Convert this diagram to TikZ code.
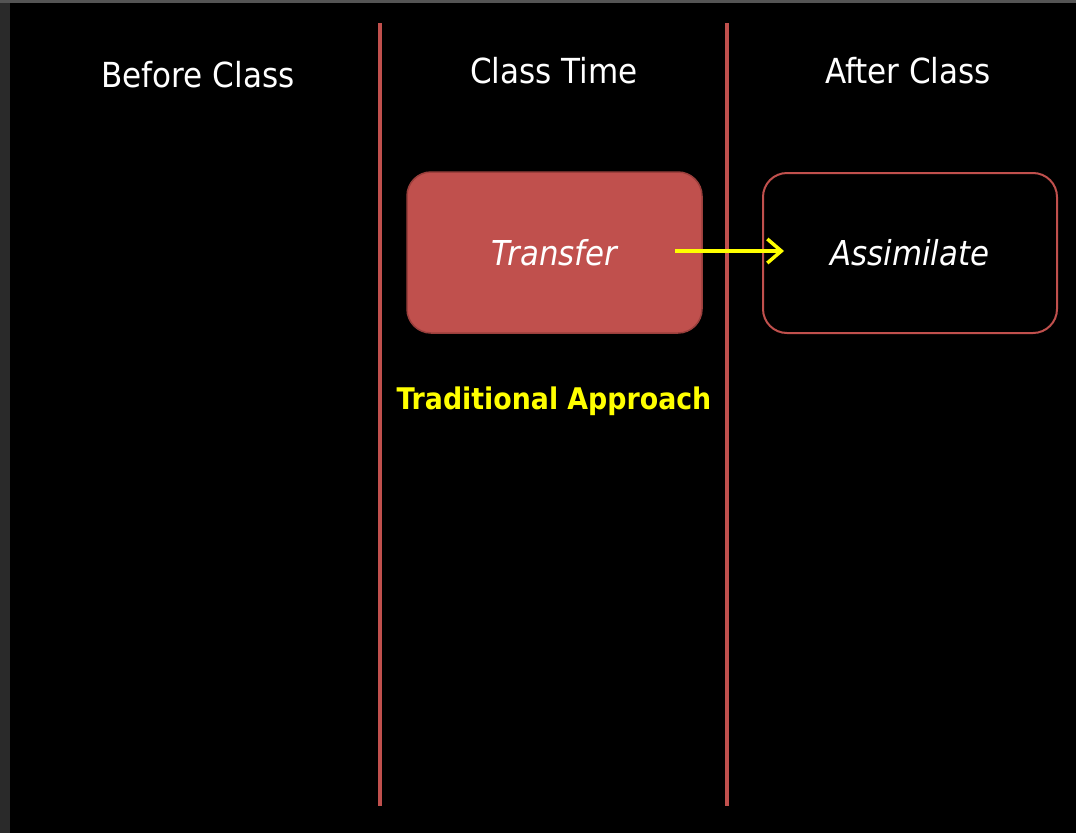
\documentclass[tikz,border=0pt]{standalone}
\usepackage{fontspec}
\setmainfont{DejaVu Sans Condensed}
\usetikzlibrary{arrows.meta}
\definecolor{accentred}{HTML}{C0504D}
\definecolor{boxedge}{HTML}{9A3F3C}
\definecolor{leftgray}{HTML}{2A2A2A}
\definecolor{topgray}{HTML}{545454}
\definecolor{hiyellow}{HTML}{FFFF00}
\tikzset{
  header/.style={text=white, font=\fontsize{34.5}{38}\selectfont, inner sep=0pt},
  divider/.style={draw=accentred, line width=4pt},
  filledbox/.style={draw=boxedge, line width=1.5pt, fill=accentred, rounded corners=24pt,
    minimum width=295pt, minimum height=161pt, text=white, font=\fontsize{34.3}{38}\selectfont\itshape},
  outlinebox/.style={draw=accentred, line width=2pt, fill=black, rounded corners=24pt,
    minimum width=294pt, minimum height=160pt, text=white, font=\fontsize{34.3}{38}\selectfont\itshape},
  flowarrow/.style={draw=hiyellow, line width=3.5pt, -{Straight Barb[length=14pt,width=24pt,line width=3.5pt]}},
  caption/.style={text=hiyellow, font=\fontsize{29.8}{34}\selectfont\bfseries, inner sep=0pt}
}
\begin{document}
\begin{tikzpicture}[x=1pt,y=-1pt]
\useasboundingbox (0,0) rectangle (1076,833);
\fill[leftgray] (0,0) rectangle (1076,833);
\fill[topgray] (0,0) rectangle (1076,3);
\fill[black] (10,3) rectangle (1076,833);
% dividers
\coordinate (d1top) at (379.5,23);
\coordinate (d1bot) at (379.5,806);
\coordinate (d2top) at (727,23);
\coordinate (d2bot) at (727,806);
\draw[divider] (d1top) -- (d1bot);
\draw[divider] (d2top) -- (d2bot);
% headers
\node[header] (before) at (198,75) {Before Class};
\node[header] (classtime) at (554,71) {Class Time};
\node[header] (after) at (908,71) {After Class};
% boxes
\node[filledbox] (transfer) at (554.5,252.5) {Transfer};
\node[outlinebox] (assimilate) at (910,253) {Assimilate};
% arrow
\coordinate (astart) at (675,251);
\coordinate (aend) at (784,251);
\draw[flowarrow] (astart) -- (aend);
% caption
\node[caption] (trad) at (554,401) {Traditional Approach};
\end{tikzpicture}
\end{document}
